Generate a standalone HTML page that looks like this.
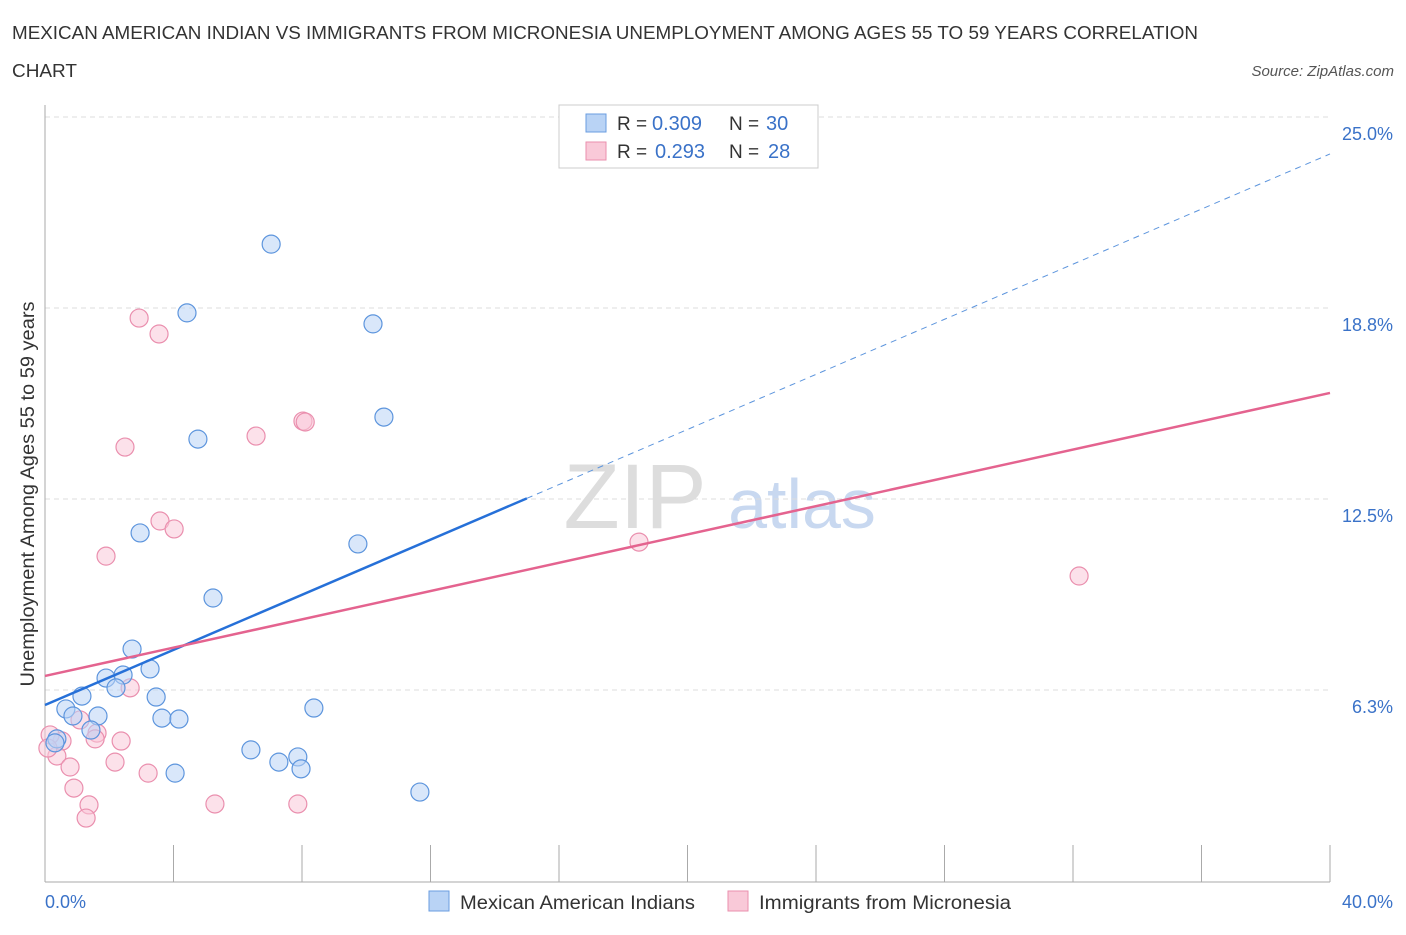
<!DOCTYPE html>
<html><head><meta charset="utf-8"><style>
body{margin:0;background:#fff;font-family:"Liberation Sans",sans-serif;}
svg text{font-family:"Liberation Sans",sans-serif;}
</style></head><body>
<svg width="1406" height="930" xmlns="http://www.w3.org/2000/svg">
<text x="12" y="39" font-size="18" fill="#333" textLength="1186" lengthAdjust="spacingAndGlyphs">MEXICAN AMERICAN INDIAN VS IMMIGRANTS FROM MICRONESIA UNEMPLOYMENT AMONG AGES 55 TO 59 YEARS CORRELATION</text>
<text x="12" y="77" font-size="18" fill="#333" textLength="65" lengthAdjust="spacingAndGlyphs">CHART</text>
<text x="1394" y="76" font-size="15" fill="#555" font-style="italic" text-anchor="end">Source: ZipAtlas.com</text>
<text x="635" y="528" font-size="92" fill="#ddd" font-family="Liberation Serif" text-anchor="middle">ZIP</text>
<text x="802" y="528" font-size="70" fill="#c8d8f0" text-anchor="middle">atlas</text>
<g id="grid"></g>
<g id="axes"></g>
<g id="pts"></g>
<g id="lines"></g>
<text transform="translate(34,494) rotate(-90)" font-size="19" fill="#333" text-anchor="middle" textLength="385" lengthAdjust="spacingAndGlyphs">Unemployment Among Ages 55 to 59 years</text>
<text x="45" y="908" font-size="18" fill="#3a72c8">0.0%</text>
<text x="1393" y="908" font-size="18" fill="#3a72c8" text-anchor="end">40.0%</text>
<g>
<rect x="559" y="105" width="259" height="63" fill="#fff" stroke="#ccc"/>
<rect x="586" y="114" width="20" height="18" fill="#b9d3f5" stroke="#6a9de0"/>
<rect x="586" y="142" width="20" height="18" fill="#f9c9d8" stroke="#ea8fae"/>
<text x="617" y="130" font-size="19" fill="#333">R =</text>
<text x="652" y="130" font-size="20" fill="#3a72c8">0.309</text>
<text x="729" y="130" font-size="19" fill="#333">N =</text>
<text x="766" y="130" font-size="20" fill="#3a72c8">30</text>
<text x="617" y="158" font-size="19" fill="#333">R =</text>
<text x="655" y="158" font-size="20" fill="#3a72c8">0.293</text>
<text x="729" y="158" font-size="19" fill="#333">N =</text>
<text x="768" y="158" font-size="20" fill="#3a72c8">28</text>
</g>
<g>
<rect x="429" y="891" width="20" height="20" fill="#b9d3f5" stroke="#6a9de0"/>
<text x="460" y="909" font-size="19" fill="#333" textLength="235" lengthAdjust="spacingAndGlyphs">Mexican American Indians</text>
<rect x="728" y="891" width="20" height="20" fill="#f9c9d8" stroke="#ea8fae"/>
<text x="759" y="909" font-size="19" fill="#333" textLength="252" lengthAdjust="spacingAndGlyphs">Immigrants from Micronesia</text>
</g>
</svg>
<script>
const yTicks=[6.25,12.5,18.75,25];
const yTickLabels=["6.3%","12.5%","18.8%","25.0%"];
const blueX=[7.04,4.42,10.21,10.55,4.76,2.96,9.74,5.23,2.71,1.90,2.43,3.27,2.21,1.15,3.46,0.65,0.87,1.65,3.64,4.17,8.37,1.43,0.37,0.31,6.41,7.28,7.87,7.97,4.05,11.67];
const blueY=[20.84,18.59,18.23,15.18,14.46,11.39,11.03,9.26,7.59,6.64,6.74,6.94,6.32,6.05,6.02,5.63,5.40,5.40,5.33,5.30,5.66,4.94,4.65,4.52,4.29,3.89,4.06,3.67,3.53,2.91];
const pinkX=[2.93,3.55,2.49,6.57,8.03,8.10,3.58,4.02,1.90,18.49,32.19,2.65,1.09,1.62,1.56,2.37,0.53,0.16,0.37,0.78,2.18,3.21,0.90,1.37,1.28,5.29,7.87,0.09];
const pinkY=[18.42,17.90,14.20,14.56,15.05,15.02,11.78,11.52,10.63,11.09,9.98,6.32,5.27,4.84,4.65,4.58,4.58,4.78,4.09,3.73,3.89,3.53,3.04,2.49,2.06,2.52,2.52,4.35];
const blueLine=[5.76,23.79];
const pinkLine=[6.71,15.97];
const NS="http://www.w3.org/2000/svg";
const X=v=>45+v/40*1285, Y=v=>881-v*30.56;
function mk(tag,attrs,parent){const e=document.createElementNS(NS,tag);for(const k in attrs)e.setAttribute(k,attrs[k]);document.getElementById(parent).appendChild(e);return e;}
yTicks.forEach((t,i)=>{
 const g=mk('line',{x1:45,x2:1330,y1:Y(t),y2:Y(t),stroke:'#ddd','stroke-dasharray':'5,4'},'grid');
 
 
 const l=mk('text',{x:1393,y:Y(t)+23,'font-size':18,fill:'#3a72c8','text-anchor':'end'},'grid');
 l.textContent=yTickLabels[i];
 
 
});
const ax=mk('line',{x1:45,x2:45,y1:105,y2:882,stroke:'#aaa'},'axes');


const bx=mk('line',{x1:45,x2:1330,y1:882,y2:882,stroke:'#aaa'},'axes');


for(let i=0;i<=10;i++){
 const t=mk('line',{x1:X(i*4),x2:X(i*4),y1:845,y2:882,stroke:'#aaa'},'axes');
 
 
}
function pts(xs,ys,fill,stroke,name){xs.forEach((x,i)=>{
 const c=mk('circle',{cx:X(x),cy:Y(ys[i]),r:9,fill:fill,'fill-opacity':0.55,stroke:stroke,'stroke-width':1.2},'pts');
 
 
});}
pts(pinkX,pinkY,'#f9c9d8','#ea8fae','pink-point');
pts(blueX,blueY,'#b9d3f5','#5d95dd','blue-point');
const bx1=15;
const bl=mk('line',{x1:X(0),y1:Y(blueLine[0]),x2:X(bx1),y2:Y(blueLine[0]+(blueLine[1]-blueLine[0])*bx1/40),stroke:'#2670d8','stroke-width':2.5},'lines');


const bd=mk('line',{x1:X(bx1),y1:Y(blueLine[0]+(blueLine[1]-blueLine[0])*bx1/40),x2:X(40),y2:Y(blueLine[1]),stroke:'#5d95dd','stroke-width':1,'stroke-dasharray':'6,5'},'lines');


const pl=mk('line',{x1:X(0),y1:Y(pinkLine[0]),x2:X(40),y2:Y(pinkLine[1]),stroke:'#e4638f','stroke-width':2.5},'lines');


</script>
</body></html>
